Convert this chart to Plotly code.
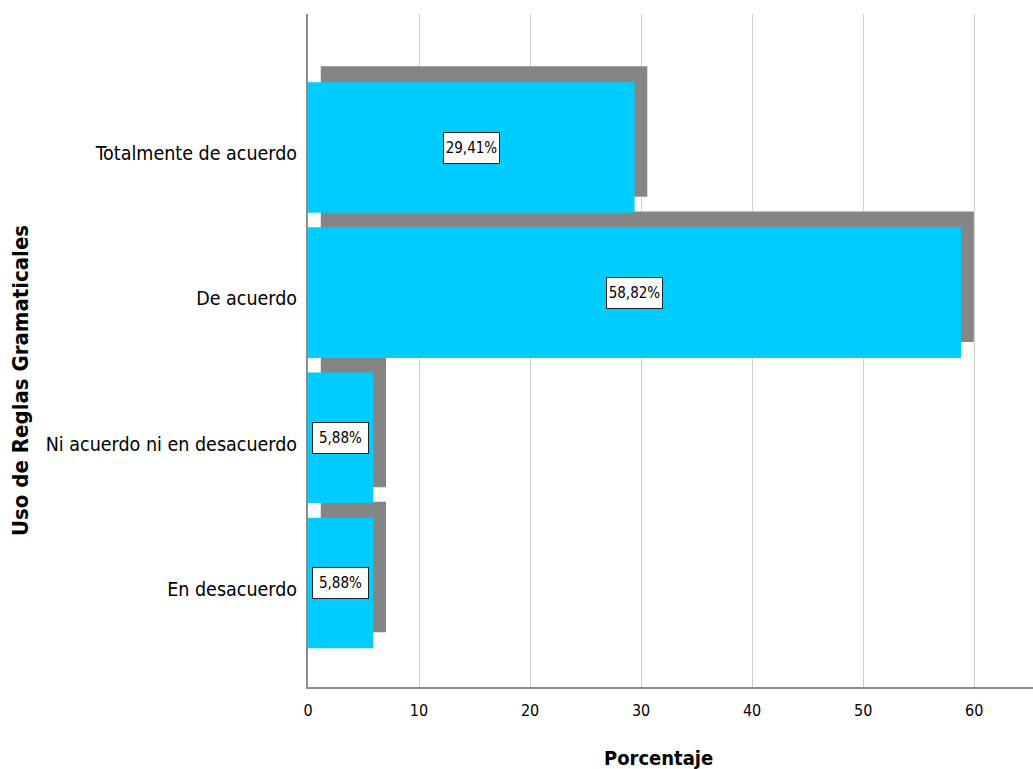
import plotly.graph_objects as go

# Response categories, listed from top to bottom
categorias = ["Totalmente de acuerdo", "De acuerdo", "Ni acuerdo ni en desacuerdo", "En desacuerdo"]
porcentajes = [29.41, 58.82, 5.88, 5.88]
ticks_x = [0, 10, 20, 30, 40, 50, 60]

CIAN = "#00CCFF"
SOMBRA = "#858585"
FUENTE = "Liberation Sans Narrow, Arial Narrow, DejaVu Sans Condensed, Liberation Sans, Arial"

ANCHO_BARRA = 0.9
DESPLAZ_X = 1.15   # drop-shadow shift along the value axis
DESPLAZ_Y = 0.11   # drop-shadow shift along the category axis

W, H = 1033, 769
ML, MR, MT, MB = 308, 0, 14, 82


def px_a_paper(px, py):
    """Convert page pixel coordinates to paper coordinates."""
    return (px - ML) / (W - ML - MR), 1 - (py - MT) / (H - MT - MB)


fig = go.Figure()

# Shadow bars drawn first so the cyan bars sit on top
fig.add_trace(go.Bar(
    y=categorias, x=porcentajes, orientation="h",
    base=DESPLAZ_X, width=ANCHO_BARRA, offset=-ANCHO_BARRA / 2 + DESPLAZ_Y,
    marker=dict(color=SOMBRA, line=dict(width=0)),
    hoverinfo="skip", showlegend=False,
))
fig.add_trace(go.Bar(
    y=categorias, x=porcentajes, orientation="h",
    width=ANCHO_BARRA, offset=-ANCHO_BARRA / 2,
    marker=dict(color=CIAN, line=dict(width=0)),
    showlegend=False,
))

# Boxed percentage labels centred on each bar
for cat, val in zip(categorias, porcentajes):
    fig.add_annotation(
        x=val / 2, y=cat, xref="x", yref="y",
        text=f"{val:.2f}%".replace(".", ","),
        showarrow=False, width=51, height=26,
        font=dict(family=FUENTE, size=15, color="#000000"),
        bgcolor="#FFFFFF", bordercolor="#222222", borderwidth=1, borderpad=2,
    )

# Axis titles
tx, ty = px_a_paper(21, 381)
fig.add_annotation(
    x=tx, y=ty, xref="paper", yref="paper", xanchor="center", yanchor="middle",
    text="<b>Uso de Reglas Gramaticales</b>", showarrow=False, textangle=-90,
    font=dict(family=FUENTE, size=22, color="#000000"),
)
tx, ty = px_a_paper(658, 758)
fig.add_annotation(
    x=tx, y=ty, xref="paper", yref="paper", xanchor="center", yanchor="middle",
    text="<b>Porcentaje</b>", showarrow=False,
    font=dict(family=FUENTE, size=20, color="#000000"),
)

fig.update_layout(
    width=W, height=H,
    margin=dict(l=ML, r=MR, t=MT, b=MB),
    paper_bgcolor="#FFFFFF", plot_bgcolor="#FFFFFF",
    barmode="overlay",
    font=dict(family=FUENTE, color="#000000"),
    xaxis=dict(
        range=[0, 65.3], tickvals=ticks_x, ticktext=[str(t) for t in ticks_x],
        showgrid=True, gridcolor="#D0D0D0", gridwidth=1,
        showline=True, linecolor="#8C8C8C", linewidth=2,
        zeroline=False, ticks="", ticklabelstandoff=8,
        tickfont=dict(family=FUENTE, size=16),
    ),
    yaxis=dict(
        type="category",
        categoryorder="array", categoryarray=categorias[::-1],
        range=[-0.717, 3.92],
        showgrid=False, zeroline=False,
        showline=True, linecolor="#8C8C8C", linewidth=2,
        ticks="", ticklabelstandoff=5, ticklabelshift=6,
        tickfont=dict(family=FUENTE, size=19.5),
    ),
)

fig.write_html("out.html")
